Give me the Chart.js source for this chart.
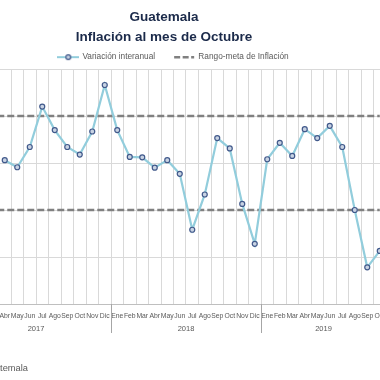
<!DOCTYPE html>
<html lang="es">
<head>
<meta charset="utf-8">
<title>Guatemala - Inflación al mes de Octubre</title>
<script src="https://cdn.jsdelivr.net/npm/chart.js@4.4.1/dist/chart.umd.min.js"></script>
<style>
  html, body { margin: 0; padding: 0; background: #fff; }
  #marco { position: relative; width: 380px; height: 380px; overflow: hidden; }
  #lienzo { position: absolute; left: -58px; top: 0; width: 444px; height: 380px; }
  #fuente { position: absolute; right: 352px; top: 363px; font: 9.3px "Liberation Sans", Arial, sans-serif; color: #595959; white-space: nowrap; }
</style>
</head>
<body>
<div id="marco">
  <div id="lienzo"><canvas id="grafica"></canvas></div>
  <div id="fuente">Fuente: Banco de Guatemala</div>
</div>
<script>
// datos (ene-mar 2017 quedan fuera del recorte)
const meses = ['Ene', 'Feb', 'Mar', 'Abr', 'May', 'Jun', 'Jul', 'Ago', 'Sep', 'Oct', 'Nov', 'Dic'];
const anios = ['2017', '2018', '2019'];
const mesesPorAnio = [12, 12, 10];

const variacionInteranual = [
  null, null, null, 4.06, 3.91, 4.34, 5.20, 4.70, 4.34, 4.18, 4.67, 5.66,
  4.70, 4.13, 4.12, 3.90, 4.06, 3.77, 2.58, 3.33, 4.53, 4.31, 3.13, 2.28,
  4.08, 4.43, 4.15, 4.72, 4.53, 4.79, 4.34, 3.00, 1.78, 2.13
];
const metaSuperior = [
  5, 5, 5, 5, 5, 5, 5, 5, 5, 5, 5, 5,
  5, 5, 5, 5, 5, 5, 5, 5, 5, 5, 5, 5,
  5, 5, 5, 5, 5, 5, 5, 5, 5, 5
];
const metaInferior = [
  3, 3, 3, 3, 3, 3, 3, 3, 3, 3, 3, 3,
  3, 3, 3, 3, 3, 3, 3, 3, 3, 3, 3, 3,
  3, 3, 3, 3, 3, 3, 3, 3, 3, 3
];

const etiquetas = [];
const anioDeEtiqueta = [];
anios.forEach((a, k) => {
  for (let m = 0; m < mesesPorAnio[k]; m++) {
    etiquetas.push(meses[m]);
    anioDeEtiqueta.push(a);
  }
});

const fuente = '"Liberation Sans", Arial, sans-serif';
const azul = '#92cddc';
const gris = '#808080';

// icono de la leyenda: linea con marcador
function iconoSerie() {
  const c = document.createElement('canvas');
  c.width = 22; c.height = 8;
  const g = c.getContext('2d');
  g.strokeStyle = azul; g.lineWidth = 2;
  g.beginPath(); g.moveTo(0, 4); g.lineTo(22, 4); g.stroke();
  g.beginPath(); g.arc(11, 4, 2.4, 0, Math.PI * 2);
  g.fillStyle = '#c8d3e3'; g.fill();
  g.strokeStyle = '#41598b'; g.lineWidth = 1.2; g.stroke();
  return c;
}

// separadores y etiquetas de anio bajo el eje
const aniosPlugin = {
  id: 'anios',
  afterDraw(chart) {
    const { ctx, chartArea } = chart;
    const x = chart.scales.x;
    ctx.save();
    ctx.font = '7.5px ' + fuente;
    ctx.fillStyle = '#595959';
    ctx.textAlign = 'center';
    ctx.textBaseline = 'middle';
    ctx.strokeStyle = '#a6a6a6';
    ctx.lineWidth = 1;
    let inicio = 0;
    anios.forEach((a, k) => {
      const fin = inicio + mesesPorAnio[k] - 1;
      const xs = Math.round(x.getPixelForValue(inicio - 0.5)) + 0.5;
      ctx.beginPath();
      ctx.moveTo(xs, chartArea.bottom);
      ctx.lineTo(xs, chartArea.bottom + 29);
      ctx.stroke();
      ctx.fillText(a, x.getPixelForValue((inicio + fin) / 2), chartArea.bottom + 25);
      inicio = fin + 1;
    });
    ctx.restore();
  }
};

new Chart(document.getElementById('grafica'), {
  type: 'line',
  data: {
    labels: etiquetas,
    datasets: [
      {
        label: 'Variación interanual',
        data: variacionInteranual,
        borderColor: azul,
        borderWidth: 2.2,
        pointRadius: 2.5,
        pointBorderWidth: 1.2,
        pointBorderColor: '#41598b',
        pointBackgroundColor: '#c8d3e3',
        tension: 0,
        order: 0
      },
      {
        label: 'Rango-meta de Inflación',
        data: metaSuperior,
        borderColor: gris,
        borderWidth: 2.5,
        borderDash: [7, 3],
        pointRadius: 0,
        order: 1
      },
      {
        label: 'Rango-meta inferior',
        data: metaInferior,
        borderColor: gris,
        borderWidth: 2.5,
        borderDash: [7, 3],
        pointRadius: 0,
        order: 1
      }
    ]
  },
  plugins: [aniosPlugin],
  options: {
    responsive: true,
    maintainAspectRatio: false,
    animation: false,
    layout: { autoPadding: false, padding: { left: 0, right: 0, top: 0, bottom: 46 } },
    plugins: {
      title: {
        display: true,
        text: ['Guatemala', 'Inflación al mes de Octubre'],
        color: '#1b2a4a',
        font: { family: fuente, size: 13.5, weight: 'bold', lineHeight: 1.5 },
        padding: { top: 7, bottom: -13.5 }
      },
      legend: {
        fullSize: false,
        maxHeight: 35,
        labels: {
          usePointStyle: true,
          pointStyleWidth: 20,
          padding: 19,
          color: '#595959',
          font: { family: fuente, size: 8.3 },
          generateLabels: () => [
            { text: 'Variación interanual', pointStyle: iconoSerie(), lineWidth: 0, datasetIndex: 0, fontColor: '#595959' },
            { text: 'Rango-meta de Inflación', pointStyle: 'line', strokeStyle: gris, lineWidth: 2.5, lineDash: [6, 2.5], datasetIndex: 1, fontColor: '#595959' }
          ]
        }
      },
      tooltip: { enabled: false }
    },
    scales: {
      x: {
        offset: true,
        grid: { offset: true, color: '#d9d9d9', drawTicks: true, tickLength: 8, tickColor: 'rgba(0,0,0,0)' },
        border: { color: '#bfbfbf' },
        ticks: {
          autoSkip: false,
          maxRotation: 0,
          minRotation: 0,
          padding: 0,
          color: '#595959',
          font: { family: fuente, size: 6.8 },
          callback: (v, i) => etiquetas[i]
        },
        afterFit: (s) => { s.height = 30; }
      },
      y: {
        min: 1,
        max: 6,
        ticks: { display: false, stepSize: 1 },
        grid: { color: '#d9d9d9', drawTicks: false },
        border: { display: false },
        afterFit: (s) => { s.width = 19; }
      }
    }
  }
});
</script>
</body>
</html>
